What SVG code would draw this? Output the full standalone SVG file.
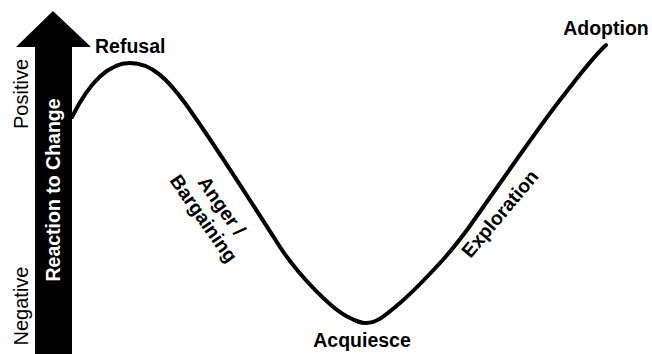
<svg xmlns="http://www.w3.org/2000/svg" width="652" height="354" viewBox="0 0 652 354">
<style>
.lbl{font-family:"Liberation Sans",Arial,sans-serif;font-weight:bold;font-size:19.5px;fill:#000}
.axis{font-family:"Liberation Sans",Arial,sans-serif;font-size:20px;fill:#000}
.curve{fill:none;stroke:#000;stroke-width:4;stroke-linecap:round;stroke-linejoin:round}
</style>
<rect width="652" height="354" fill="#fff"/>
<g id="axis-arrow">
<polygon points="53,11 91,47 72,47 72,354 35,354 35,47 16,47" fill="#000"/>
<text class="lbl" transform="translate(60,190) rotate(-90)" text-anchor="middle" style="fill:#fff">Reaction to Change</text>
</g>
<g id="axis-labels">
<text class="axis" transform="translate(28,94) rotate(-90)" text-anchor="middle">Positive</text>
<text class="axis" transform="translate(27.5,306) rotate(-90)" text-anchor="middle">Negative</text>
</g>
<g id="connectors">
<path class="curve" d="M72,117 C88,85 108,63 130,63 C152,63 168,80 185,103 C210,138 250,200 280,247 C297,273 330,308 348,317 C356,321 360,323 366,323 C378,323 388,313 400,303 C415,290 428,276 440,263 C452,250 458,242 467,230 C485,205 535,132 560,100 C578,77 592,58 606,45"/>
</g>
<g id="refusal"><text class="lbl" x="95" y="53">Refusal</text></g>
<g id="anger-bargaining">
<g transform="translate(213,212) rotate(55)">
<text class="lbl" x="0" y="-4" text-anchor="middle">Anger /</text>
<text class="lbl" x="0" y="18" text-anchor="middle">Bargaining</text>
</g>
</g>
<g id="acquiesce"><text class="lbl" x="362" y="347" text-anchor="middle">Acquiesce</text></g>
<g id="exploration"><text class="lbl" transform="translate(505,218) rotate(-50)" text-anchor="middle">Exploration</text></g>
<g id="adoption"><text class="lbl" x="606" y="35" text-anchor="middle">Adoption</text></g>
</svg>
